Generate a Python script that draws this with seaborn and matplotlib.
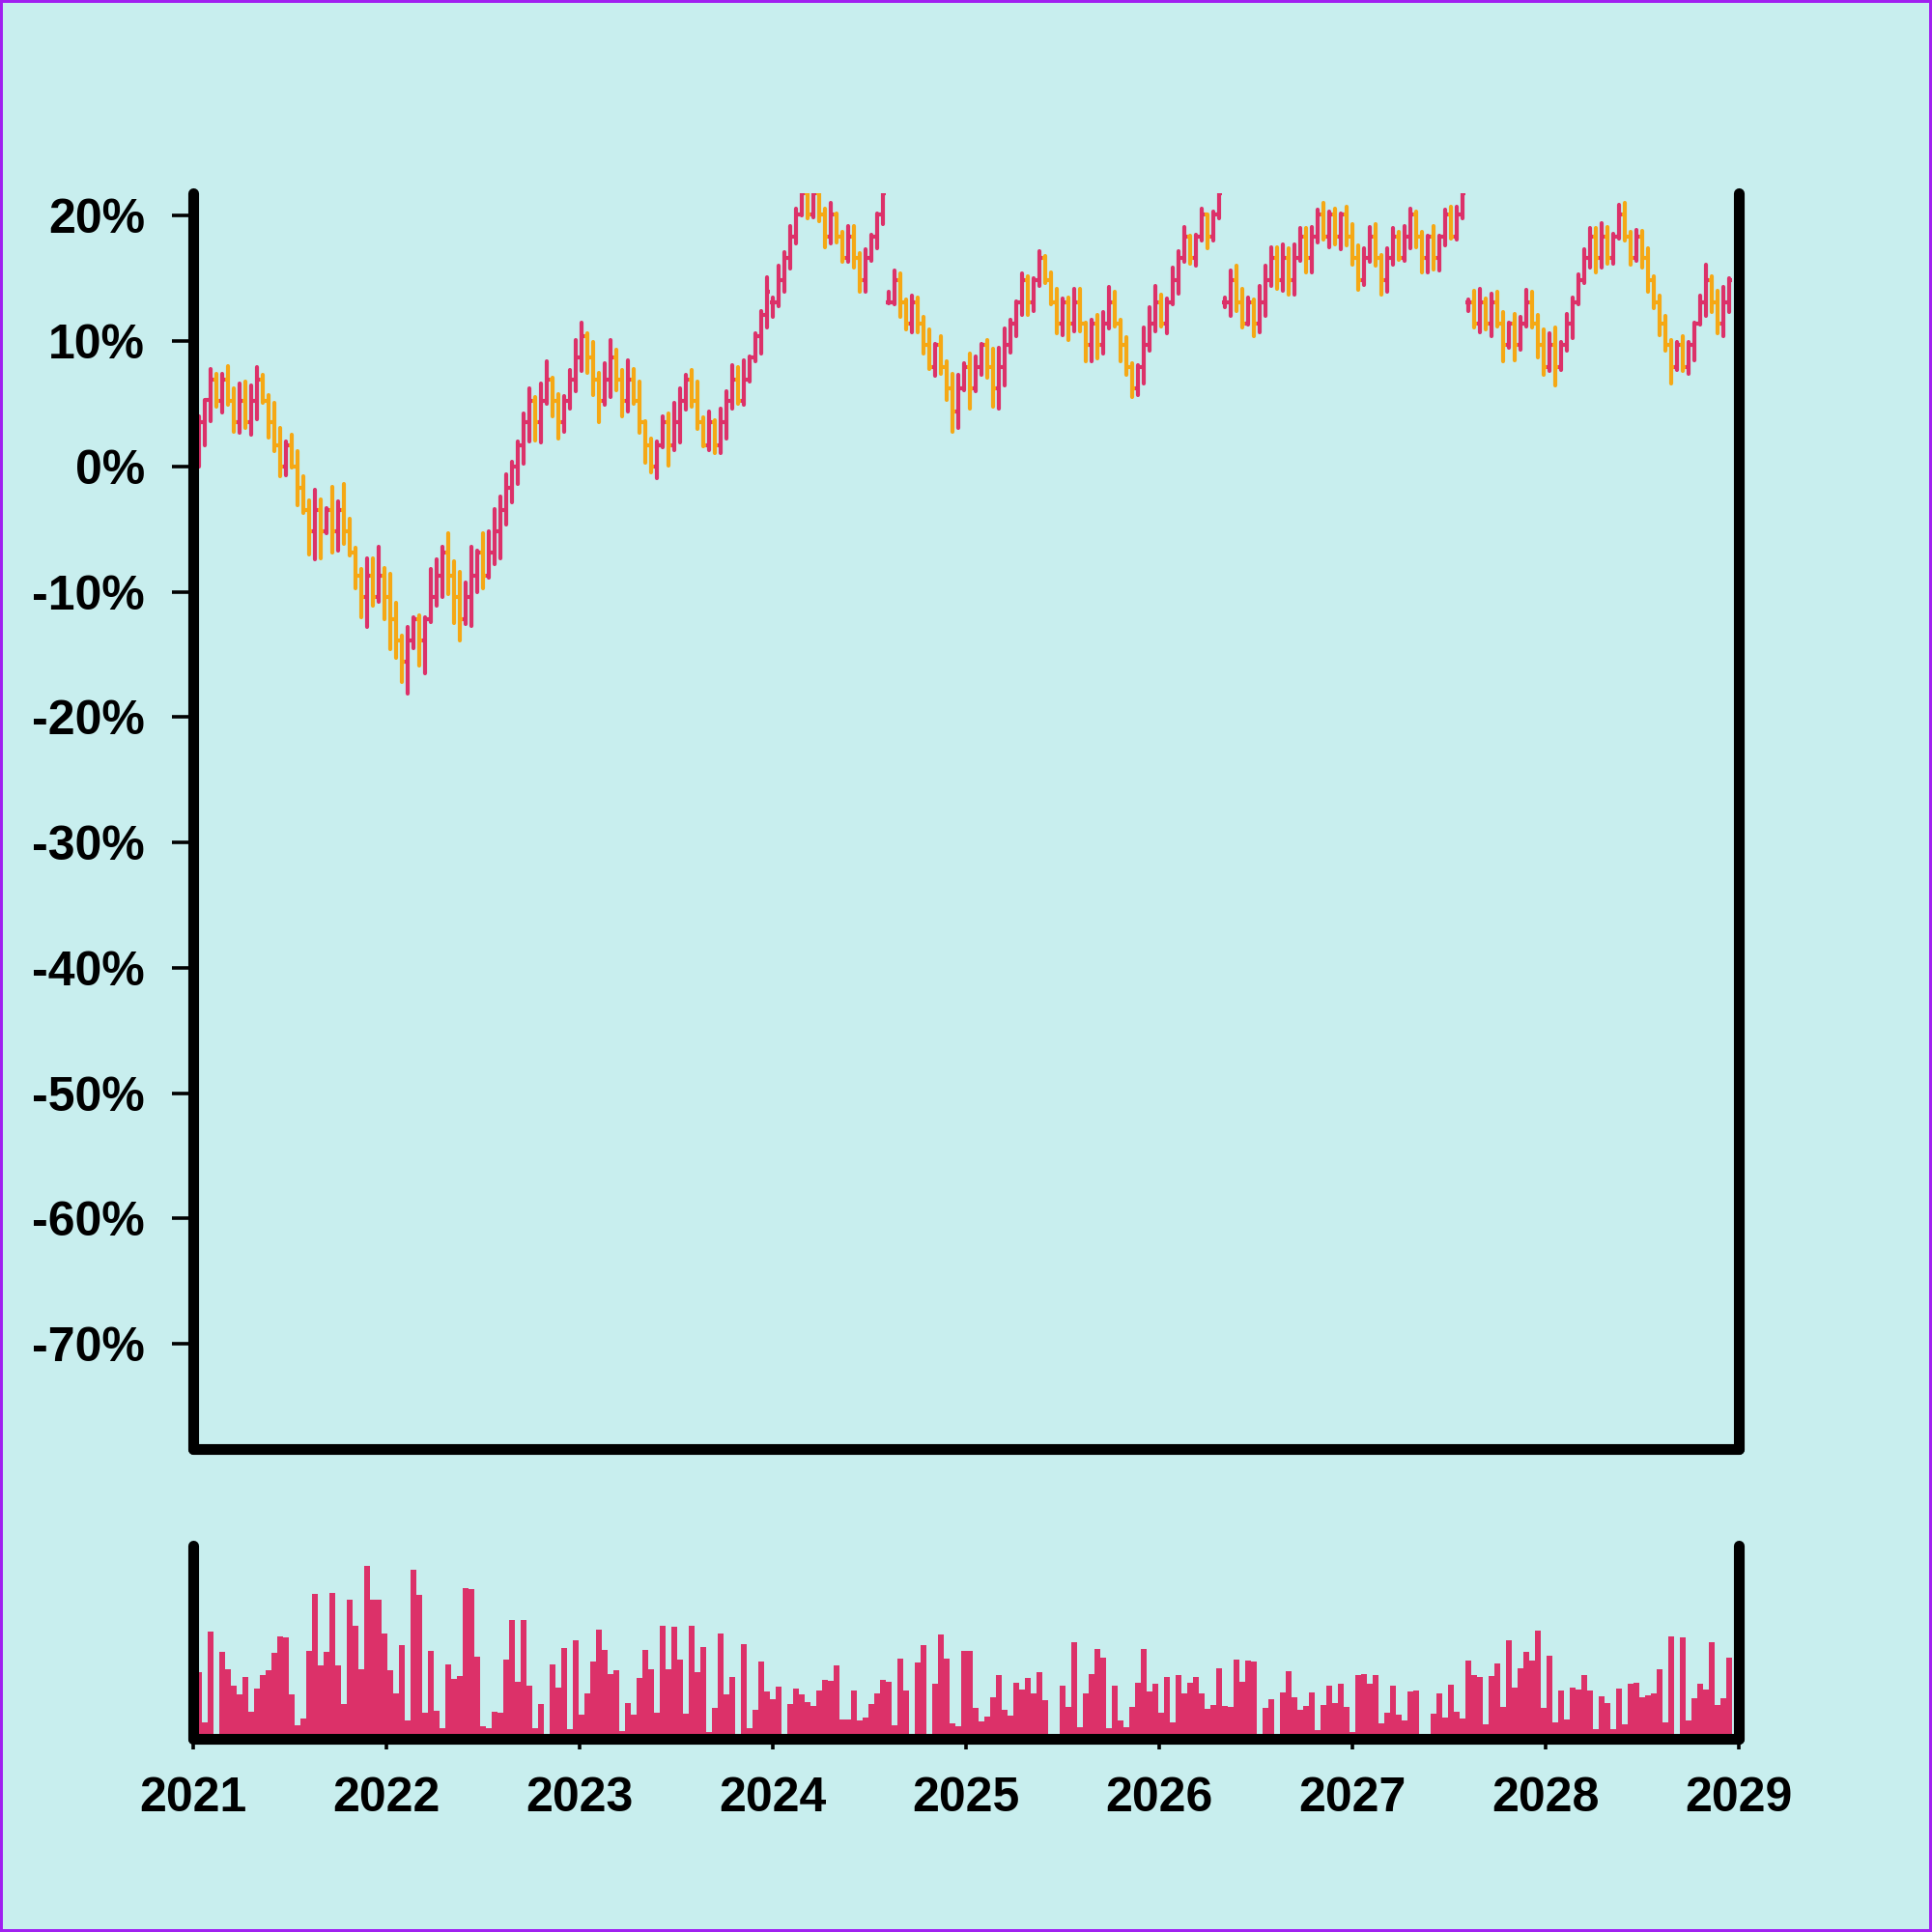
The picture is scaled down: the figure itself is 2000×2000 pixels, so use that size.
import numpy as np
import pandas as pd
import matplotlib
matplotlib.use("Agg")
import matplotlib.pyplot as plt
import matplotlib.dates as mdates
from matplotlib.ticker import FuncFormatter
import seaborn as sns

# ======================
# Data (values in %)
# ======================
first_bar = "2021-01-12"
last_bar = "2028-12-14"
n_bars = 265

close = [
    3.5, 5.3, 6.9, 5.2, 6.9, 5.2, 3.5, 5.2, 3.5, 5.2, 6.9, 5.2, 3.5, 1.7, 0.0,
    1.7, 0.0, -1.7, -3.5, -5.2, -3.5, -5.2, -3.5, -5.2, -3.5, -5.2, -6.9, -8.7, -10.4, -8.7,
    -10.4, -8.7, -10.4, -12.2, -13.9, -15.6, -13.9, -12.2, -13.9, -12.2, -10.4, -8.7, -6.9, -8.7, -10.4,
    -12.2, -10.4, -8.7, -6.9, -8.7, -6.9, -5.2, -3.5, -1.7, 0.0, 1.7, 3.5, 5.2, 3.5, 5.2,
    6.9, 5.2, 3.5, 5.2, 6.9, 8.7, 10.4, 8.7, 6.9, 5.2, 6.9, 8.7, 6.9, 5.2, 6.9,
    5.2, 3.5, 1.7, 0.0, 1.7, 3.5, 1.7, 3.5, 5.2, 6.9, 5.2, 3.5, 1.7, 3.5, 1.7,
    3.5, 5.2, 6.9, 5.2, 6.9, 8.7, 10.4, 12.1, 13.9, 13.1, 14.9, 16.6, 18.3, 20.1, 21.8,
    20.1, 21.8, 20.1, 18.3, 20.1, 18.3, 16.6, 18.3, 16.6, 14.9, 16.6, 18.3, 20.1, 21.8, 13.1,
    14.9, 13.1, 11.4, 13.1, 11.4, 9.7, 7.9, 9.7, 7.9, 6.2, 4.4, 6.2, 7.9, 6.2, 7.9,
    9.7, 7.9, 6.2, 7.9, 9.7, 11.4, 13.1, 14.9, 13.1, 14.9, 16.6, 14.9, 13.1, 11.4, 13.1,
    11.4, 13.1, 11.4, 9.7, 11.4, 9.7, 11.4, 13.1, 11.4, 9.7, 7.9, 6.2, 7.9, 9.7, 11.4,
    13.1, 11.4, 13.1, 14.9, 16.6, 18.3, 16.6, 18.3, 20.1, 18.3, 20.1, 21.8, 13.1, 14.9, 13.1,
    11.4, 13.1, 11.4, 13.1, 14.9, 16.6, 14.9, 16.6, 14.9, 16.6, 18.3, 16.6, 18.3, 20.1, 18.3,
    20.1, 18.3, 20.1, 18.3, 16.6, 14.9, 16.6, 18.3, 16.6, 14.9, 16.6, 18.3, 16.6, 18.3, 20.1,
    18.3, 16.6, 18.3, 16.6, 18.3, 20.1, 18.3, 20.1, 21.8, 13.1, 11.4, 13.1, 11.4, 13.1, 11.4,
    9.7, 11.4, 9.7, 11.4, 13.1, 11.4, 9.7, 7.9, 9.7, 7.9, 9.7, 11.4, 13.1, 14.9, 16.6,
    18.3, 16.6, 18.3, 16.6, 18.3, 20.1, 18.3, 16.6, 18.3, 16.6, 14.9, 13.1, 11.4, 9.7, 7.9,
    9.7, 7.9, 9.7, 11.4, 13.1, 14.9, 13.1, 11.4, 13.1, 14.9,
]

high = [
    4.0, 5.3, 7.8, 7.4, 7.4, 8.0, 6.2, 6.6, 6.8, 6.5, 7.9, 7.3, 5.7, 5.1, 3.1,
    2.0, 2.5, 1.2, -0.8, -2.7, -1.9, -2.6, -3.3, -1.6, -2.8, -1.4, -4.2, -6.5, -8.2, -7.3,
    -7.3, -6.4, -8.1, -8.6, -10.9, -13.5, -12.8, -12.0, -11.9, -12.0, -8.2, -7.4, -6.4, -5.3, -7.6,
    -8.4, -9.3, -6.4, -6.7, -5.3, -5.2, -3.4, -2.4, -0.6, 0.4, 2.0, 4.2, 6.2, 5.5, 6.6,
    8.4, 7.1, 5.8, 5.6, 7.7, 10.1, 11.5, 10.6, 9.9, 7.5, 8.2, 10.1, 9.3, 7.7, 8.5,
    7.8, 6.8, 3.6, 2.2, 2.0, 4.0, 4.2, 5.1, 6.2, 7.3, 7.7, 6.8, 3.9, 4.4, 3.7,
    4.6, 6.0, 8.1, 7.9, 8.5, 8.8, 10.6, 12.4, 15.1, 13.5, 16.0, 17.1, 19.2, 20.6, 22.5,
    22.5, 22.5, 22.5, 20.6, 21.0, 20.2, 18.7, 19.2, 19.2, 17.0, 17.3, 18.5, 20.2, 22.5, 13.9,
    15.6, 15.4, 13.3, 13.6, 13.5, 11.9, 10.9, 9.8, 10.4, 8.4, 7.4, 7.3, 8.2, 9.0, 8.8,
    9.8, 10.1, 9.4, 9.5, 11.0, 11.7, 13.2, 15.4, 15.2, 15.0, 17.2, 16.8, 15.5, 14.2, 13.4,
    13.5, 14.2, 14.2, 11.5, 11.7, 12.1, 12.3, 14.3, 13.9, 11.7, 10.3, 8.2, 8.1, 11.1, 12.7,
    14.4, 13.7, 13.4, 15.9, 17.2, 19.1, 18.4, 18.5, 20.6, 20.1, 20.3, 22.5, 13.5, 15.6, 16.0,
    14.2, 13.5, 13.3, 14.4, 16.0, 17.5, 17.5, 17.7, 17.4, 17.7, 19.0, 19.0, 19.1, 20.5, 21.0,
    20.3, 20.6, 20.2, 20.7, 19.3, 17.6, 17.4, 19.1, 19.3, 16.9, 17.4, 19.0, 18.7, 19.2, 20.6,
    20.3, 18.7, 18.4, 19.2, 18.4, 20.5, 20.7, 20.7, 22.5, 13.3, 14.0, 14.2, 13.4, 13.8, 13.9,
    12.3, 11.5, 12.2, 11.9, 14.1, 13.9, 12.1, 10.9, 10.6, 11.1, 9.9, 12.2, 13.5, 15.3, 17.3,
    19.0, 19.0, 19.4, 19.1, 18.6, 20.9, 21.0, 18.7, 18.9, 18.8, 17.4, 15.2, 13.6, 12.0, 10.1,
    9.9, 10.4, 9.9, 11.5, 13.6, 16.1, 15.2, 14.0, 14.3, 15.0,
]

low = [
    0.0, 1.7, 3.6, 4.8, 4.3, 4.9, 2.8, 2.7, 3.1, 2.5, 3.8, 5.1, 2.3, 1.2, -0.8,
    -0.7, -0.1, -3.1, -3.7, -7.0, -7.4, -7.3, -5.3, -6.9, -6.7, -6.2, -7.1, -9.7, -12.0, -12.8,
    -11.1, -10.8, -12.2, -14.6, -15.3, -17.2, -18.1, -14.5, -15.9, -16.5, -12.4, -11.1, -10.4, -10.2, -12.5,
    -13.9, -12.6, -12.7, -10.0, -9.7, -8.9, -7.8, -7.3, -4.6, -2.9, -1.4, 0.2, 2.0, 2.1, 1.9,
    5.0, 4.0, 2.2, 2.8, 4.6, 6.0, 7.6, 7.5, 5.7, 3.5, 4.9, 5.5, 6.1, 4.0, 4.4,
    5.0, 2.7, 0.3, -0.5, -0.9, 1.5, 0.1, 1.3, 1.9, 4.5, 4.8, 3.0, 1.6, 1.3, 1.1,
    1.1, 2.2, 4.6, 5.0, 4.9, 6.8, 8.4, 9.0, 11.1, 11.9, 12.8, 13.9, 15.8, 17.8, 20.0,
    19.8, 19.9, 19.6, 17.5, 17.8, 17.9, 16.3, 16.3, 15.9, 13.9, 13.9, 16.4, 17.4, 19.3, 13.0,
    12.9, 11.9, 10.9, 10.7, 10.7, 9.0, 7.8, 7.2, 7.4, 5.3, 2.8, 3.1, 6.1, 4.6, 6.0,
    7.3, 7.1, 4.8, 4.6, 6.5, 9.1, 10.4, 12.1, 12.1, 12.4, 14.4, 14.6, 12.9, 10.6, 10.5,
    10.1, 10.8, 10.8, 8.4, 8.4, 8.6, 9.0, 11.0, 11.2, 8.4, 7.3, 5.5, 5.7, 6.6, 9.2,
    10.8, 11.2, 10.6, 12.9, 13.8, 16.3, 16.2, 16.0, 18.0, 17.4, 18.0, 19.8, 12.7, 12.0, 12.4,
    11.1, 11.3, 10.4, 10.7, 12.0, 14.4, 14.2, 14.0, 13.7, 13.7, 16.4, 15.5, 15.5, 17.9, 18.1,
    17.5, 17.7, 17.3, 17.6, 16.1, 14.1, 14.5, 16.3, 16.0, 13.7, 13.9, 16.1, 16.5, 16.4, 17.4,
    17.5, 15.5, 15.5, 15.7, 15.6, 17.6, 18.2, 18.1, 19.8, 12.4, 11.1, 10.7, 10.9, 10.4, 11.2,
    8.4, 9.5, 8.5, 9.3, 11.2, 11.1, 8.7, 7.3, 7.6, 6.5, 7.7, 9.2, 10.2, 12.9, 14.6,
    15.9, 15.5, 15.9, 16.2, 16.2, 18.2, 18.0, 16.1, 16.4, 15.9, 13.9, 12.6, 10.5, 9.2, 6.6,
    7.7, 7.6, 7.4, 8.5, 11.3, 12.0, 12.3, 10.6, 10.4, 12.3,
]

# bars whose open is not the previous close
gap_open = {0: 0.0, 99: 13.1, 119: 13.1, 177: 13.1, 219: 13.1}

volume = [
    207, 50, 333, 0, 271, 217, 165, 138, 192, 83, 155, 199, 213, 267, 318,
    315, 137, 42, 63, 274, 450, 228, 271, 453, 228, 107, 432, 351, 217, 537,
    431, 431, 326, 213, 141, 292, 57, 525, 447, 82, 273, 86, 33, 230, 186,
    195, 467, 464, 256, 39, 34, 84, 82, 246, 369, 178, 368, 165, 33, 107,
    0, 230, 158, 281, 30, 305, 76, 141, 240, 338, 275, 200, 213, 25, 110,
    74, 190, 276, 215, 81, 350, 217, 347, 246, 78, 350, 206, 284, 22, 96,
    327, 138, 192, 0, 293, 32, 90, 240, 147, 124, 162, 0, 107, 155, 138,
    113, 101, 150, 183, 181, 227, 59, 60, 149, 57, 67, 108, 140, 183, 176,
    42, 249, 150, 0, 238, 290, 0, 172, 324, 250, 47, 38, 273, 273, 95,
    55, 69, 130, 197, 90, 72, 174, 153, 189, 141, 206, 120, 0, 0, 164,
    99, 299, 36, 141, 202, 278, 252, 33, 165, 56, 36, 100, 174, 280, 146,
    170, 81, 192, 51, 197, 140, 174, 192, 140, 94, 104, 219, 101, 100, 246,
    178, 242, 240, 0, 95, 122, 0, 143, 209, 129, 89, 101, 144, 26, 105,
    165, 111, 172, 99, 21, 198, 201, 170, 198, 49, 81, 165, 75, 56, 147,
    149, 0, 0, 77, 141, 66, 168, 84, 63, 242, 197, 192, 44, 195, 233,
    99, 306, 160, 218, 269, 242, 336, 95, 257, 51, 149, 60, 159, 152, 197,
    150, 31, 132, 112, 30, 156, 46, 170, 174, 128, 135, 141, 217, 50, 318,
    0, 314, 58, 126, 171, 152, 300, 106, 126, 253,
]

y_ticks = [-70, -60, -50, -40, -30, -20, -10, 0, 10, 20]

# ======================
# Prepare
# ======================
df = pd.DataFrame({
    "date": pd.date_range(first_bar, last_bar, periods=n_bars),
    "high": high, "low": low, "close": close, "volume": volume,
})
df["open"] = df["close"].shift(1)
for i, v in gap_open.items():
    df.loc[i, "open"] = v

UP = "#dc3169"
DOWN = "#f5a815"
BG = "#c8eeee"

x = mdates.date2num(df["date"])
step = np.diff(x).mean()
colors = np.where(df["close"] >= df["open"], UP, DOWN)

# ======================
# Style
# ======================
sns.set_theme(style="ticks")
plt.rcParams["font.family"] = ["Liberation Sans", "DejaVu Sans"]
plt.rcParams["font.weight"] = "bold"

fig = plt.figure(figsize=(10, 10), dpi=200, facecolor=BG, edgecolor="#a020f0", linewidth=1.5)
ax = fig.add_axes([0.1, 0.25, 0.8, 0.65], facecolor=BG)
vax = fig.add_axes([0.1, 0.1, 0.8, 0.1], facecolor=BG)

# ======================
# OHLC bars
# ======================
lw = 1.5
ax.vlines(x, df["low"], df["high"], colors=colors, linewidth=lw, capstyle="round")
ax.hlines(df["open"], x - step / 2, x, colors=colors, linewidth=lw)
ax.hlines(df["close"], x, x + step / 2, colors=colors, linewidth=lw)

xmin = mdates.date2num(pd.Timestamp("2021-01-01"))
xmax = mdates.date2num(pd.Timestamp("2029-01-01"))
ax.set_xlim(xmin, xmax)
ax.set_ylim(-78.4, 21.8)
ax.set_yticks(y_ticks)
ax.yaxis.set_major_formatter(FuncFormatter(lambda v, p: f"{v:.0f}%"))
ax.tick_params(axis="y", left=True, right=False, length=8, width=1.3, pad=10,
               labelsize=18, color="black", labelcolor="black")
ax.tick_params(axis="x", bottom=False, labelbottom=False)

# ======================
# Volume bars
# ======================
vax.bar(x, df["volume"], width=step, color=UP, linewidth=0, align="center")
vax.set_xlim(xmin, xmax)
vax.set_ylim(0, 600)
vax.set_yticks([])
vax.xaxis.set_major_locator(mdates.YearLocator())
vax.xaxis.set_major_formatter(mdates.DateFormatter("%Y"))
vax.tick_params(axis="x", length=4, width=1.3, pad=10, labelsize=18,
                color="black", labelcolor="black")

for a in (ax, vax):
    sns.despine(ax=a, top=True, right=False)
    for side in ("left", "right", "bottom"):
        a.spines[side].set_linewidth(4)
        a.spines[side].set_color("black")
        a.spines[side].set_capstyle("round")
    a.grid(False)

fig.savefig("out.png", dpi=200, facecolor=BG, edgecolor=fig.get_edgecolor())
